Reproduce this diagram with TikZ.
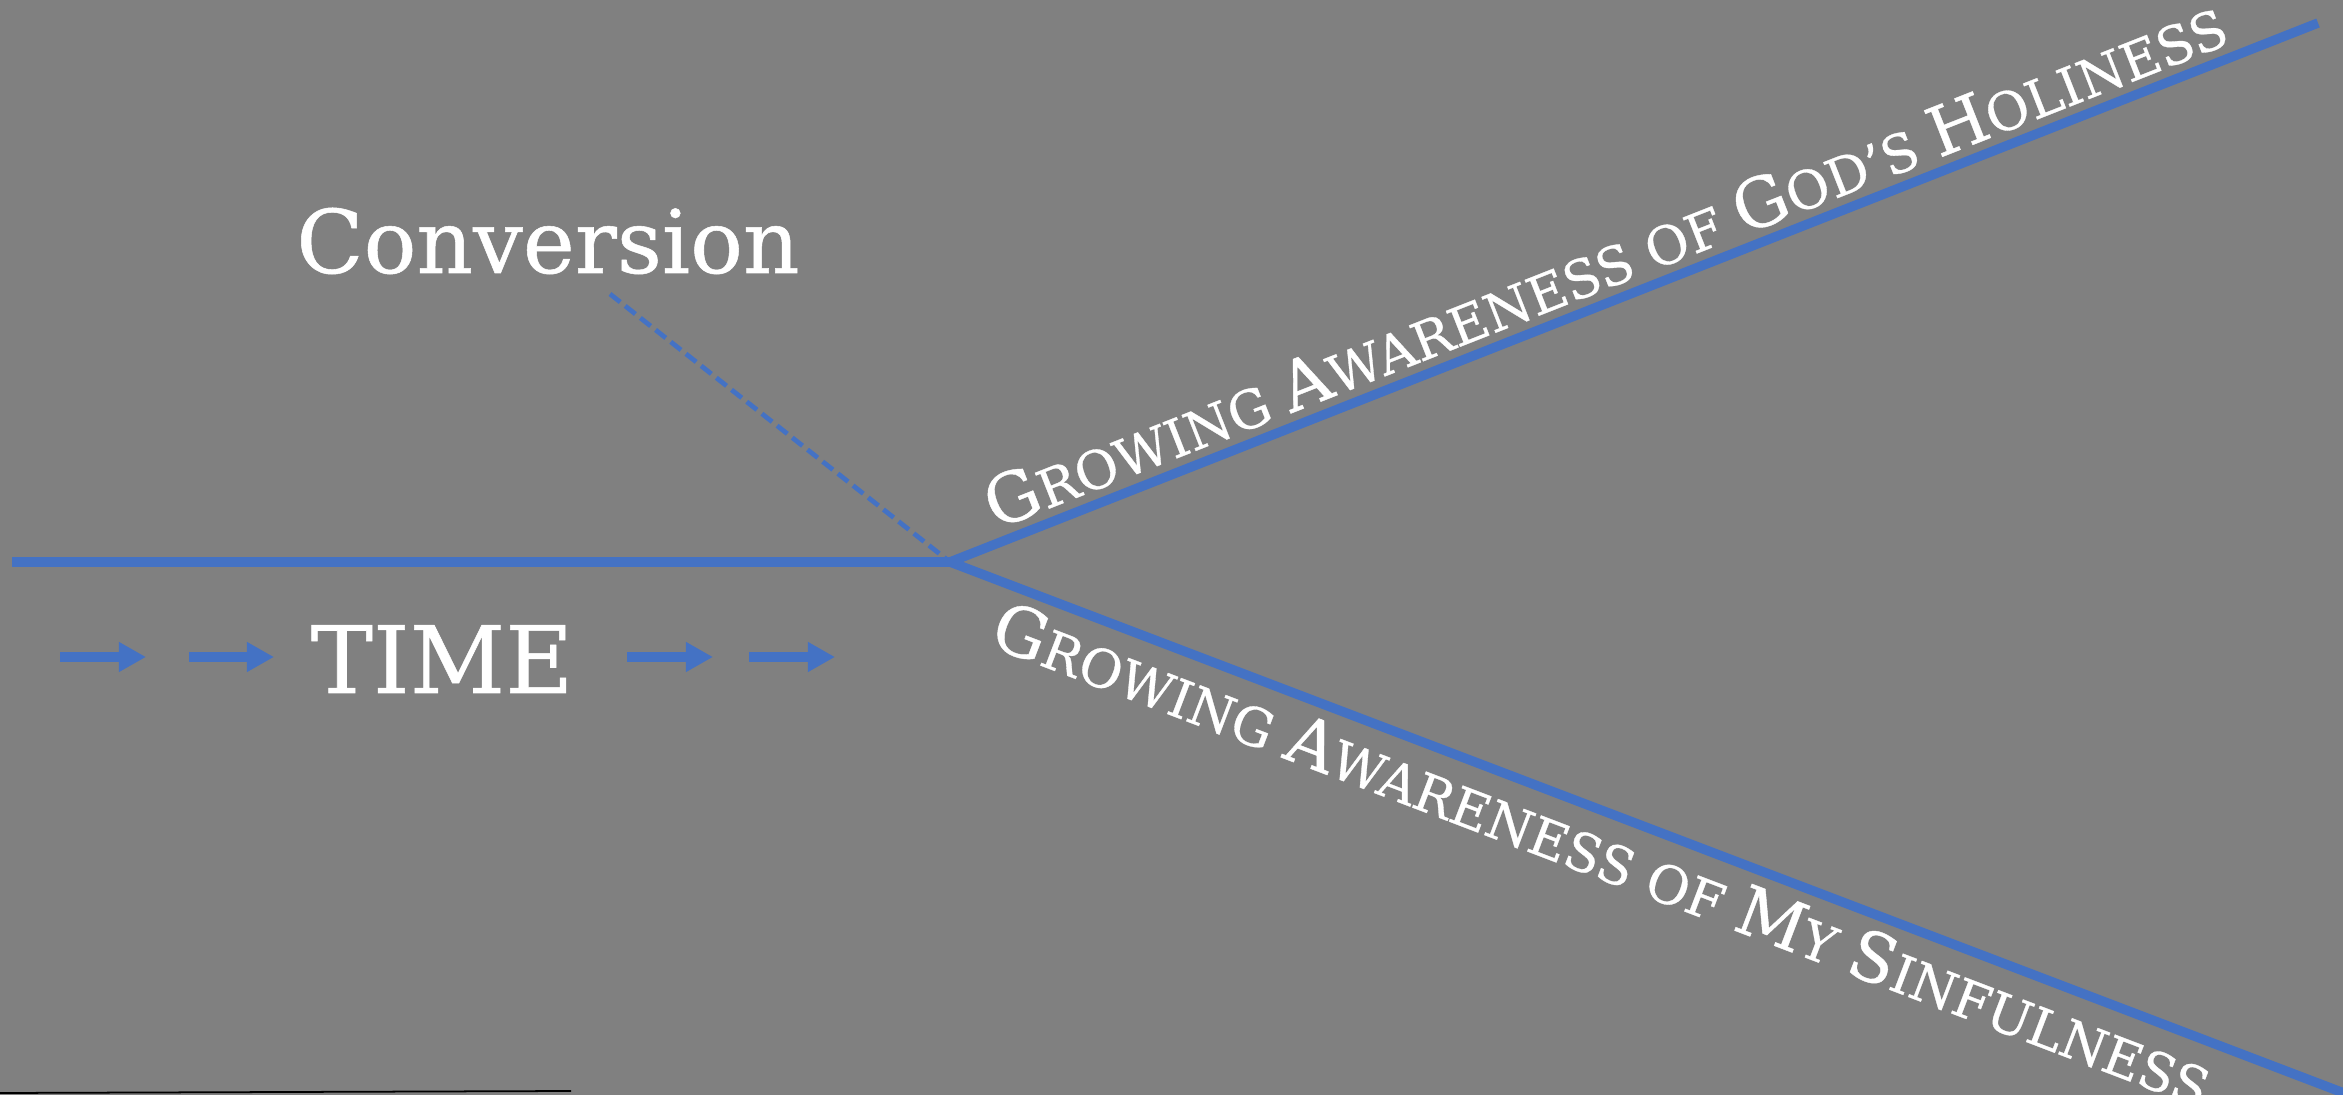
\documentclass[tikz,border=0pt]{standalone}
\usepackage{fontspec}
\setmainfont{DejaVu Serif}[FakeBold=0.6]
\usetikzlibrary{arrows.meta}
\definecolor{bggray}{RGB}{128,128,128}
\definecolor{lineblue}{RGB}{68,114,196}
\newcommand\scbig[1]{{\fontsize{19.4}{21}\selectfont #1}}
\tikzset{
  mainline/.style={draw=lineblue, line width=2.7pt},
  dashline/.style={draw=lineblue, line width=1.35pt, dash pattern=on 3.7pt off 1.8pt},
  timearrow/.style={draw=lineblue, line width=2.85pt, -{Triangle[length=7.7pt,width=8pt]}},
  bigtext/.style={text=white, inner sep=0pt, font=\fontsize{25}{27}\selectfont},
  sctext/.style={text=white, inner sep=0pt, font=\fontsize{15}{17}\selectfont},
}
\begin{document}
\begin{tikzpicture}[x=0.01cm, y=-0.01cm]
\path[fill=bggray, use as bounding box] (0,0) rectangle (2343,1095);
% key points
\coordinate (start) at (12,562);
\coordinate (J) at (950,562);
\coordinate (U) at (2318,23);
\coordinate (L) at (2370,1103);
\coordinate (dtop) at (610,294);
% lines
\draw[mainline] (start) -- (J);
\draw[mainline] (J) -- (U);
\draw[mainline] (J) -- (L);
\draw[dashline] (dtop) -- (J);
% labels
\node[bigtext, anchor=base] (conv) at (548,273) {Conversion};
\node[bigtext, anchor=base, font=\fontsize{26.5}{28}\selectfont] (time) at (442,693) {TIME};
\node[sctext, anchor=base west, rotate=21.5] (holy) at (995,530)
  {\scbig{G}ROWING \scbig{A}WARENESS OF \scbig{G}OD’S \scbig{H}OLINESS};
\node[sctext, anchor=north west, rotate=-20.9, xscale=0.99] (sin) at (1005,597)
  {\scbig{G}ROWING \scbig{A}WARENESS OF \scbig{M}Y \scbig{S}INFULNESS};
% time arrows
\coordinate (a1s) at (60,657);  \coordinate (a1e) at (146,657);
\coordinate (a2s) at (189,657); \coordinate (a2e) at (274,657);
\coordinate (a3s) at (627,657); \coordinate (a3e) at (713,657);
\coordinate (a4s) at (749,657); \coordinate (a4e) at (835,657);
\draw[timearrow] (a1s) -- (a1e);
\draw[timearrow] (a2s) -- (a2e);
\draw[timearrow] (a3s) -- (a3e);
\draw[timearrow] (a4s) -- (a4e);
% bottom rule
\coordinate (r1) at (0,1093);
\coordinate (r2) at (571,1091);
\draw[black, line width=0.5pt] (r1) -- (r2);
\end{tikzpicture}
\end{document}
